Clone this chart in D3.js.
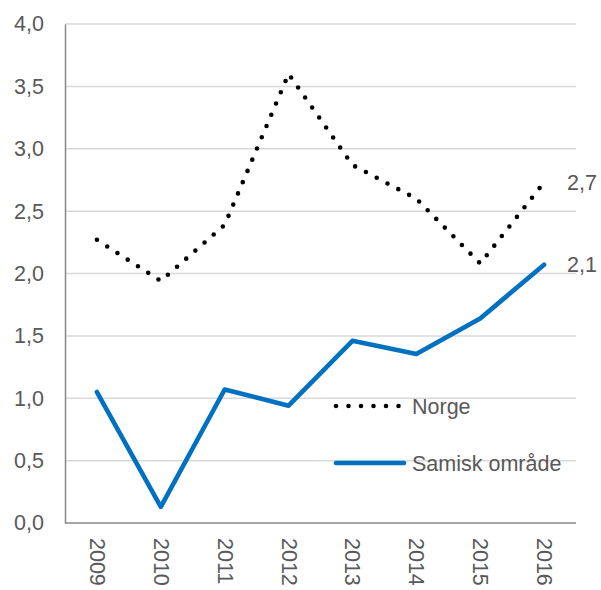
<!DOCTYPE html>
<html>
<head>
<meta charset="utf-8">
<script src="https://cdn.jsdelivr.net/npm/d3@7"></script>
<style>
  html, body { margin: 0; padding: 0; background: #fff; }
  svg text { font-family: "Liberation Sans", Arial, sans-serif; fill: #595959; }
</style>
</head>
<body>
<svg id="chart" width="601" height="590"></svg>
<script>
// Years on the category axis
const years = ["2009", "2010", "2011", "2012", "2013", "2014", "2015", "2016"];
// Series values
const norge = [2.27, 1.94, 2.39, 3.60, 2.87, 2.60, 2.08, 2.73];
const samisk = [1.05, 0.13, 1.07, 0.94, 1.46, 1.355, 1.64, 2.07];
// Series names and end-of-line labels
const seriesNames = ["Norge", "Samisk område"];
const endLabels = ["2,7", "2,1"];
// Value axis ticks
const yTicks = [0, 0.5, 1, 1.5, 2, 2.5, 3, 3.5, 4];

const svg = d3.select("#chart");
const plotLeft = 65, plotRight = 576, plotTop = 24, plotBottom = 523;
const fontSize = 21.5;

const x = d3.scalePoint().domain(years).range([plotLeft, plotRight]).padding(0.5);
const y = d3.scaleLinear().domain([0, 4]).range([plotBottom, plotTop]);
const fmt = d => d3.format(".1f")(d).replace(".", ",");

// Horizontal gridlines
svg.append("g")
  .selectAll("line")
  .data(yTicks.filter(d => d > 0))
  .join("line")
  .attr("x1", plotLeft).attr("x2", plotRight)
  .attr("y1", d => y(d)).attr("y2", d => y(d))
  .attr("stroke", "#d9d9d9").attr("stroke-width", 1.5);

// Value axis
const yAxis = svg.append("g")
  .attr("transform", `translate(${plotLeft},0)`)
  .call(d3.axisLeft(y).tickValues(yTicks).tickFormat(fmt).tickSize(0).tickPadding(21));
yAxis.select(".domain").attr("stroke", "#888").attr("stroke-width", 1.5);
yAxis.selectAll("text").style("font-size", fontSize + "px").attr("fill", "#595959");

// Category axis with vertical labels
const xAxis = svg.append("g")
  .attr("transform", `translate(0,${plotBottom})`)
  .call(d3.axisBottom(x).tickSize(0).tickPadding(0));
xAxis.select(".domain").attr("stroke", "#888").attr("stroke-width", 1.5)
  .attr("d", `M${plotLeft},0H${plotRight}`);
xAxis.selectAll("text")
  .style("font-size", fontSize + "px")
  .attr("fill", "#595959")
  .attr("text-anchor", "start")
  .attr("transform", "translate(0,15) rotate(90)")
  .attr("x", 0).attr("y", 0).attr("dy", "0.35em");

const line = d3.line().x((d, i) => x(years[i])).y(d => y(d));

// Norge: round-dotted black line
svg.append("path")
  .datum(norge)
  .attr("d", line)
  .attr("fill", "none")
  .attr("stroke", "#000")
  .attr("stroke-width", 4.6)
  .attr("stroke-linecap", "round")
  .attr("stroke-linejoin", "round")
  .attr("stroke-dasharray", "0 12.2");

// Samisk område: solid blue line
svg.append("path")
  .datum(samisk)
  .attr("d", line)
  .attr("fill", "none")
  .attr("stroke", "#0070c0")
  .attr("stroke-width", 4.6)
  .attr("stroke-linejoin", "round")
  .attr("stroke-linecap", "round");

// Labels at the end of each line
const lastIdx = years.length - 1;
[norge, samisk].forEach((s, i) => {
  svg.append("text")
    .attr("x", x(years[lastIdx]) + 23)
    .attr("y", y(s[lastIdx]))
    .attr("dy", "0.35em")
    .style("font-size", fontSize + "px")
    .text(endLabels[i]);
});

// Legend inside the plot area
const legend = svg.append("g");
const legendRows = [
  { name: seriesNames[0], yPos: 406, dash: "0 12.5" },
  { name: seriesNames[1], yPos: 463, dash: null }
];
legendRows.forEach((r, i) => {
  legend.append("line")
    .attr("x1", 336).attr("x2", i === 0 ? 399 : 404)
    .attr("y1", r.yPos).attr("y2", r.yPos)
    .attr("stroke", i === 0 ? "#000" : "#0070c0")
    .attr("stroke-width", 4.6)
    .attr("stroke-linecap", "round")
    .attr("stroke-dasharray", r.dash);
  legend.append("text")
    .attr("x", 412).attr("y", r.yPos)
    .attr("dy", "0.35em")
    .style("font-size", fontSize + "px")
    .text(r.name);
});
</script>
</body>
</html>
